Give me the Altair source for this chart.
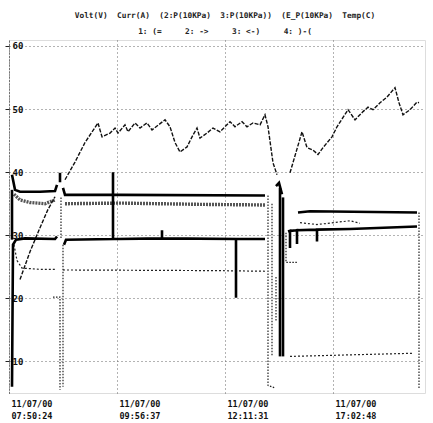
import altair as alt
import pandas as pd

# ---------------- data (x = logger sample index, y = reading) ----------------
NB = "\u00a0"
title_line1 = "Volt(V)  Curr(A)  (2:P(10KPa)  3:P(10KPa))  (E_P(10KPa)  Temp(C)".replace(" ", NB)
title_line2 = "1: (=     2: ->     3: <-)     4: )-(".replace(" ", NB)

tick_pos = [0, 108, 216, 324]
tick_dates = ["11/07/00", "11/07/00", "11/07/00", "11/07/00"]
tick_times = ["07:50:24", "09:56:37", "12:11:31", "17:02:48"]
y_ticks = [10, 20, 30, 40, 50, 60]

# sawtooth trace (dashed)
a1_x = [11, 21, 31, 39, 46]
a1_y = [23.0, 27.4, 31.2, 34.1, 36.1]
a2_x = [56, 66, 76, 89, 93, 101, 106, 109, 116, 119, 126, 131, 138, 143, 156, 161, 166, 171,
        178, 184, 188, 191, 198, 204, 211, 221, 226, 233, 238, 244, 251, 256, 259, 264, 268]
a2_y = [38.8, 41.6, 44.7, 47.8, 45.6, 46.2, 47.0, 46.2, 47.5, 46.4, 47.8, 47.0, 47.8, 46.7, 48.3, 47.2, 44.7, 43.2,
        44.0, 45.9, 47.0, 45.4, 46.2, 47.0, 46.4, 48.0, 47.2, 48.0, 47.2, 47.8, 47.5, 49.1, 47.2, 41.5, 39.6]
a3_x = [281, 293, 298, 304, 309, 314, 323, 328, 339, 346, 354, 359, 364, 371, 378, 386, 390, 394, 401, 408, 410]
a3_y = [39.9, 46.4, 43.9, 43.5, 42.8, 43.9, 45.6, 47.2, 49.9, 48.3, 49.6, 50.3, 49.9, 51.0, 51.9, 53.4, 51.0, 49.1, 49.9, 51.1, 51.0]

# upper thick trace
b1_x = [3, 6, 11, 31, 46, 48]
b1_y = [39.6, 37.2, 36.9, 36.9, 37.0, 38.0]
b2_x = [54, 56, 111, 256]
b2_y = [37.5, 36.4, 36.4, 36.3]
b3_x = [267, 270, 273]
b3_y = [37.8, 38.3, 36.5]
b4_x = [289, 301, 408]
b4_y = [33.6, 33.8, 33.6]

# noisy band trace
c1_x = [5, 11, 21, 36, 46]
c1_y = [36.5, 35.6, 35.2, 35.0, 35.6]
c2_x = [56, 111, 191, 256]
c2_y = [35.0, 35.1, 34.9, 34.8]
c3_x = [291, 308, 341, 351]
c3_y = [32.0, 31.7, 32.3, 31.9]

# lower thick trace
d1_x = [3, 4, 7, 16, 46, 48]
d1_y = [6.0, 28.5, 29.3, 29.5, 29.4, 29.8]
d2_x = [55, 57, 104, 104, 104, 109, 153, 153, 153, 227, 227, 227, 256]
d2_y = [28.5, 29.3, 29.4, 40.0, 29.4, 29.4, 29.5, 30.8, 29.5, 29.4, 20.1, 29.4, 29.4]
d3_x = [279, 281, 281, 281, 288, 288, 288, 308, 308, 308, 341, 408]
d3_y = [30.6, 30.7, 28.0, 30.7, 30.8, 28.6, 30.8, 30.9, 29.0, 30.9, 31.0, 31.4]

# dotted low trace
e1_x = [5, 8, 13, 31, 46]
e1_y = [28.5, 26.0, 24.8, 24.6, 24.6]
e2_x = [54, 204, 256]
e2_y = [24.5, 24.4, 24.3]
e3_x = [281, 404]
e3_y = [10.8, 11.3]

# shutdown drops (thin)
f1_x = [44, 51, 51]
f1_y = [20.2, 20.2, 5.5]
f2_x = [52, 52]
f2_y = [36.0, 29.5]
f3_x = [259, 259, 266]
f3_y = [36.3, 6.2, 5.8]
f4_x = [263, 263]
f4_y = [35.0, 11.0]
f5_x = [267, 267]
f5_y = [23.4, 16.5]
f6_x = [277, 277, 289]
f6_y = [30.4, 25.7, 25.7]
f7_x = [410, 410]
f7_y = [33.6, 5.8]
f8_x = [54, 54]
f8_y = [28.5, 6.0]
# shutdown drops (thick)
g1_x = [3, 3]
g1_y = [29.3, 37.2]
g2_x = [51, 51]
g2_y = [39.9, 38.4]
g3_x = [271, 271]
g3_y = [37.5, 10.8]
g4_x = [274, 274]
g4_y = [36.0, 10.8]

segments = [
    ("A1", "dash", a1_x, a1_y), ("A2", "dash", a2_x, a2_y), ("A3", "dash", a3_x, a3_y),
    ("B1", "thick", b1_x, b1_y), ("B2", "thick", b2_x, b2_y), ("B3", "thick", b3_x, b3_y), ("B4", "thick", b4_x, b4_y),
    ("C1", "band", c1_x, c1_y), ("C2", "band", c2_x, c2_y), ("C3", "dot", c3_x, c3_y),
    ("D1", "thick", d1_x, d1_y), ("D2", "thick", d2_x, d2_y), ("D3", "thick", d3_x, d3_y),
    ("E1", "dot", e1_x, e1_y), ("E2", "dot", e2_x, e2_y), ("E3", "dot", e3_x, e3_y),
    ("F1", "drop", f1_x, f1_y), ("F2", "drop", f2_x, f2_y), ("F3", "drop", f3_x, f3_y),
    ("F4", "drop", f4_x, f4_y), ("F5", "drop", f5_x, f5_y), ("F6", "drop", f6_x, f6_y),
    ("F7", "drop", f7_x, f7_y), ("F8", "drop", f8_x, f8_y),
    ("G1", "thick", g1_x, g1_y), ("G2", "thick", g2_x, g2_y), ("G3", "thick", g3_x, g3_y), ("G4", "thick", g4_x, g4_y),
]

rows = []
for sid, style, xs, ys in segments:
    for i, (x, y) in enumerate(zip(xs, ys)):
        rows.append({"seg": sid, "style": style, "x": x, "y": y, "i": i})
df = pd.DataFrame(rows)

# ---------------- chart ----------------
label_expr = " : ".join(
    [f"datum.value == {p} ? ['{d}', '{t}']" for p, d, t in zip(tick_pos[:-1], tick_dates[:-1], tick_times[:-1])]
    + [f"['{tick_dates[-1]}', '{tick_times[-1]}']"]
)

FONT = "DejaVu Sans Mono"

x_enc = alt.X(
    "x:Q",
    scale=alt.Scale(domain=[0, 416], nice=False, zero=False),
    axis=alt.Axis(
        values=tick_pos, title=None, labelExpr=label_expr, labelAlign="left", labelBaseline="top",
        labelPadding=6, labelOffset=2, labelFont=FONT, labelFontSize=8.5, labelFontWeight="bold",
        labelColor="#111", labelLineHeight=12, labelOverlap=False, labelFlush=False, labelBound=False,
        ticks=False, domain=False, grid=True, gridDash=[1, 3], gridColor="#666", gridWidth=1,
    ),
)
y_enc = alt.Y(
    "y:Q",
    scale=alt.Scale(domain=[5, 60.95], nice=False, zero=False),
    axis=alt.Axis(
        values=y_ticks, title=None, format="d", labelAlign="left", labelPadding=-7,
        labelFont=FONT, labelFontSize=9, labelFontWeight="bold", labelColor="#111",
        tickSize=4, tickColor="#222", domain=True, domainDash=[1, 2], domainColor="#444",
        grid=True, gridDash=[1, 3], gridColor="#666", gridWidth=1,
    ),
)

base = alt.Chart(df).encode(x=x_enc, y=y_enc, detail="seg:N", order="i:Q")

band = base.transform_filter(alt.datum.style == "band").mark_line(
    color="#555", strokeWidth=3.4, strokeDash=[2, 1])
dash = base.transform_filter(alt.datum.style == "dash").mark_line(
    color="#111", strokeWidth=1.4, strokeDash=[4, 1.5])
dot = base.transform_filter(alt.datum.style == "dot").mark_line(
    color="#222", strokeWidth=1.2, strokeDash=[2, 2])
drop = base.transform_filter(alt.datum.style == "drop").mark_line(
    color="#222", strokeWidth=1.2, strokeDash=[1.5, 1.5])
thick = base.transform_filter(alt.datum.style == "thick").mark_line(
    color="#000", strokeWidth=2.6)

chart = alt.layer(band, dash, dot, drop, thick).properties(
    width=416,
    height=353,
    padding={"left": 9, "top": 40, "right": 8, "bottom": 30},
    autosize=alt.AutoSizeParams(type="none"),
    title=alt.TitleParams(
        text=[title_line1, title_line2], font=FONT, fontSize=7.8, fontWeight="bold",
        color="#222", anchor="middle", dx=8, offset=4, lineHeight=16,
    ),
).configure_view(stroke=None).configure(background="white")

chart.save("out.html", embed_options={"renderer": "svg", "actions": False})
